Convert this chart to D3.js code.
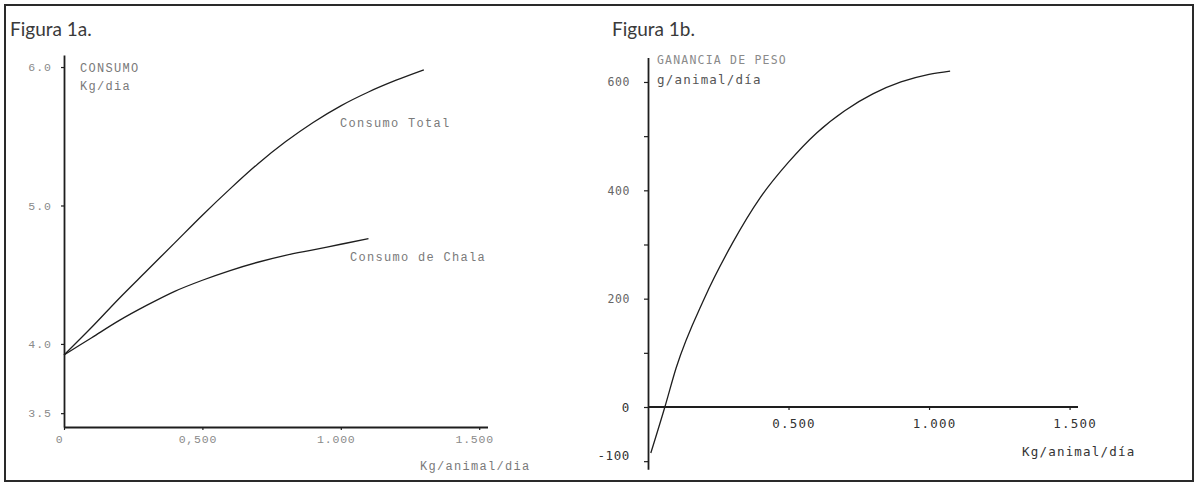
<!DOCTYPE html>
<html>
<head>
<meta charset="utf-8">
<script src="https://cdn.jsdelivr.net/npm/d3@7"></script>
<style>
  body { margin: 0; background: #fff; }
  svg { display: block; }
</style>
</head>
<body>
<div class="canvas"></div>
<script>
// Figura 1a - consumo (kg/dia) vs suplemento (kg/animal/dia)
var suplemento = [0, 0.1, 0.2, 0.3, 0.4, 0.5, 0.6, 0.7, 0.8, 0.9, 1.0, 1.1, 1.2, 1.3];
var consumoTotal = [3.92, 4.12, 4.33, 4.53, 4.73, 4.93, 5.12, 5.30, 5.46, 5.60, 5.72, 5.82, 5.905, 5.98];
var consumoChala = [3.92, 4.045, 4.17, 4.28, 4.38, 4.46, 4.53, 4.59, 4.64, 4.68, 4.72, 4.76];

// Figura 1b - ganancia de peso (g/animal/dia)
var suplementoB = [0.01, 0.06, 0.1, 0.2, 0.3, 0.4, 0.5, 0.6, 0.7, 0.8, 0.9, 1.0, 1.075];
var ganancia = [-85, 0, 72, 200, 302, 387, 452, 506, 547, 578, 600, 614, 620];

// ticks
var xTicksA = [0, 0.5, 1.0, 1.5];
var xLabelsA = ["0", "0,500", "1.000", "1.500"];
var yTicksA = [3.5, 4.0, 5.0, 6.0];
var xTicksB = [0.5, 1.0, 1.5];
var xLabelsB = ["0.500", "1.000", "1.500"];
var yTicksB = [-100, 0, 100, 200, 300, 400, 500, 600];
var yLabelsB = {"-100": "-100", "0": "0", "200": "200", "400": "400", "600": "600"};

var W = 1198, H = 485;
var svg = d3.select(".canvas")
    .append("svg")
    .attr("width", W)
    .attr("height", H);

// outer frame
svg.append("rect")
    .attr("x", 5).attr("y", 5)
    .attr("width", 1188).attr("height", 476)
    .attr("fill", "none")
    .attr("stroke", "#2a2a2a")
    .attr("stroke-width", 2);

var ink = "#1e1e1e";
var grey = "#8a8a8a";
var serifFont = "'Liberation Mono', monospace";
var monoFont = "'DejaVu Sans Mono', monospace";

function styleAxis(g, color, font, size, spacing) {
    g.select(".domain").attr("stroke", ink).attr("stroke-width", 1.8);
    g.selectAll(".tick line").attr("stroke", ink).attr("stroke-width", 1.2);
    g.selectAll("text")
        .style("font-family", font)
        .style("font-size", size + "px")
        .style("letter-spacing", spacing + "px")
        .attr("fill", color);
}

// ---------- Figura 1a ----------
var xA = d3.scaleLinear().domain([0, 1.53]).range([64, 487.5]);
var yA = d3.scaleLinear().domain([3.4, 6.087]).range([427, 55]);

svg.append("text")
    .attr("x", 10).attr("y", 36)
    .text("Figura 1a.")
    .style("font-family", "Lato, sans-serif")
    .style("font-size", "19px")
    .attr("fill", "#3a3a3a");

var gxA = svg.append("g")
    .attr("transform", "translate(0," + yA(3.4) + ")")
    .call(d3.axisBottom(xA).tickValues(xTicksA).tickSize(3).tickSizeOuter(0).tickPadding(5)
        .tickFormat(function(d, i) { return xLabelsA[i]; }));
styleAxis(gxA, grey, serifFont, 11.5, 0.8);
gxA.selectAll(".tick text").attr("dx", -5);

var gyA = svg.append("g")
    .attr("transform", "translate(" + xA(0) + ",0)")
    .call(d3.axisLeft(yA).tickValues(yTicksA).tickSize(3).tickSizeOuter(0).tickPadding(9)
        .tickFormat(d3.format(".1f")));
styleAxis(gyA, grey, serifFont, 11.5, 1);

var labelA = [
    {t: "CONSUMO", x: 80, y: 72},
    {t: "Kg/dia", x: 80, y: 90},
    {t: "Consumo Total", x: 340, y: 127},
    {t: "Consumo de Chala", x: 350, y: 261},
    {t: "Kg/animal/dia", x: 420, y: 470}
];
svg.selectAll("labA")
    .data(labelA)
    .enter()
    .append("text")
        .attr("x", d => d.x)
        .attr("y", d => d.y)
        .text(d => d.t)
        .style("font-family", serifFont)
        .style("font-size", "12px")
        .style("letter-spacing", "1.3px")
        .attr("fill", "#7a7a7a");

var lineA = d3.line()
    .x(function(d) { return xA(d[0]); })
    .y(function(d) { return yA(d[1]); })
    .curve(d3.curveMonotoneX);

svg.append("path")
    .datum(consumoTotal.map(function(v, i) { return [suplemento[i], v]; }))
    .attr("d", lineA)
    .attr("fill", "none")
    .attr("stroke", ink)
    .attr("stroke-width", 1.3);

svg.append("path")
    .datum(consumoChala.map(function(v, i) { return [suplemento[i], v]; }))
    .attr("d", lineA)
    .attr("fill", "none")
    .attr("stroke", ink)
    .attr("stroke-width", 1.3);

// ---------- Figura 1b ----------
var xB = d3.scaleLinear().domain([0, 1.53]).range([648, 1078]);
var yB = d3.scaleLinear().domain([-115, 645]).range([469.3, 57.6]);

svg.append("text")
    .attr("x", 612).attr("y", 36)
    .text("Figura 1b.")
    .style("font-family", "Lato, sans-serif")
    .style("font-size", "19px")
    .attr("fill", "#3a3a3a");

var gxB = svg.append("g")
    .attr("transform", "translate(0," + yB(0) + ")")
    .call(d3.axisBottom(xB).tickValues(xTicksB).tickSize(3).tickSizeOuter(0).tickPadding(9)
        .tickFormat(function(d, i) { return xLabelsB[i]; }));
// stretch the x domain back to the y axis
gxB.select(".domain").attr("d", "M" + xB(0) + ",0H" + xB(1.53));
styleAxis(gxB, "#333", monoFont, 12.5, 1.2);
gxB.selectAll(".tick text").attr("dx", 5);

var gyB = svg.append("g")
    .attr("transform", "translate(" + xB(0) + ",0)")
    .call(d3.axisLeft(yB).tickValues(yTicksB).tickSize(4).tickSizeOuter(0).tickPadding(14)
        .tickFormat(function(d) { return yLabelsB[d] || ""; }));
styleAxis(gyB, "#666", monoFont, 11.5, 0.6);
gyB.selectAll(".tick text").filter(function(d) { return d <= 0; })
    .attr("fill", "#333").style("font-size", "12.5px");
gyB.selectAll(".tick text").filter(function(d) { return d < 0; })
    .attr("dy", "-0.1em");

var labelB = [
    {t: "GANANCIA DE PESO", x: 657, y: 64, c: "#8a8a8a", s: 11.5},
    {t: "g/animal/día", x: 657, y: 84, c: "#555", s: 12.5},
    {t: "Kg/animal/día", x: 1022, y: 456, c: "#333", s: 12.5}
];
svg.selectAll("labB")
    .data(labelB)
    .enter()
    .append("text")
        .attr("x", d => d.x)
        .attr("y", d => d.y)
        .text(d => d.t)
        .style("font-family", monoFont)
        .style("font-size", d => d.s + "px")
        .style("letter-spacing", "1.2px")
        .attr("fill", d => d.c);

var lineB = d3.line()
    .x(function(d) { return xB(d[0]); })
    .y(function(d) { return yB(d[1]); })
    .curve(d3.curveMonotoneX);

svg.append("path")
    .datum(ganancia.map(function(v, i) { return [suplementoB[i], v]; }))
    .attr("d", lineB)
    .attr("fill", "none")
    .attr("stroke", ink)
    .attr("stroke-width", 1.3);
</script>
</body>
</html>
